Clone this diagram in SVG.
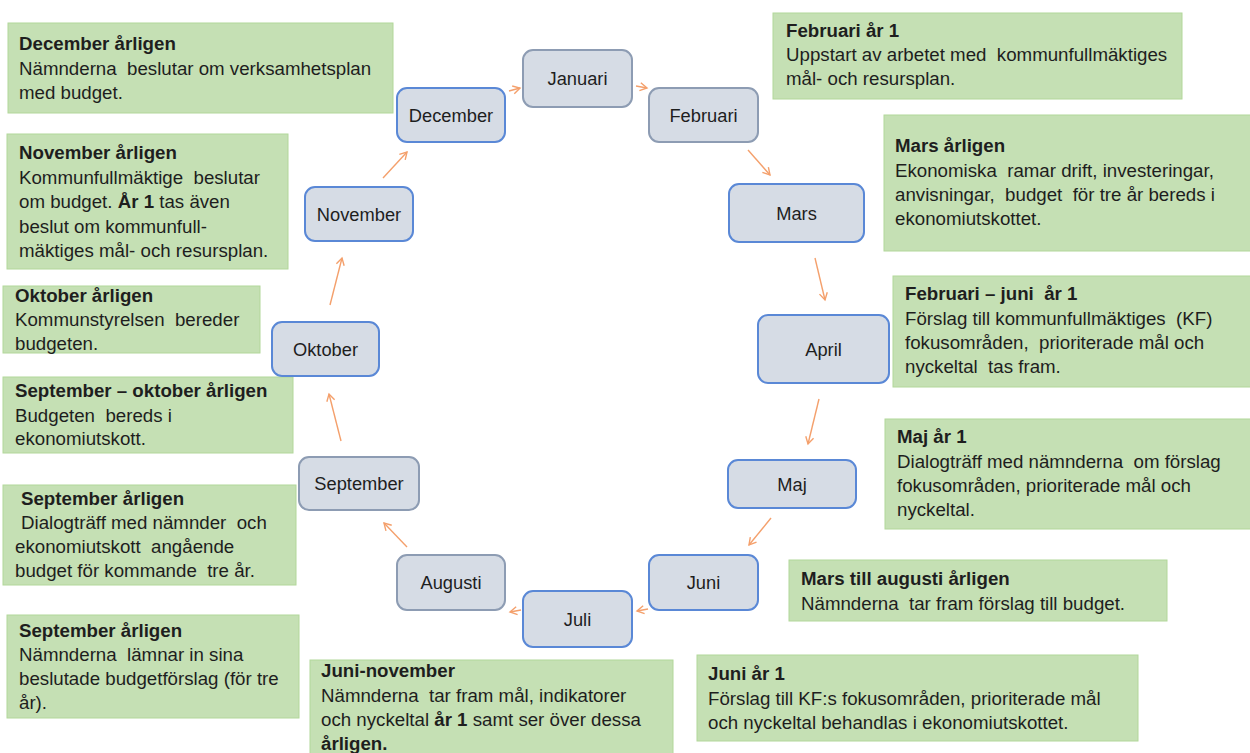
<svg xmlns="http://www.w3.org/2000/svg" width="1250" height="753" viewBox="0 0 1250 753">
<style>
  text { font-family: "Liberation Sans", Arial, sans-serif; font-size: 18.7px; fill: #1e1e1e; white-space: pre; }
  .b { font-weight: bold; }
  .note { fill: #c5e0b4; stroke: #b2d79a; stroke-width: 1; }
  .m { fill: #d6dce5; stroke-width: 2; }
  .mb { stroke: #5a88d6; }
  .mg { stroke: #8d9cb3; }
  .ml { text-anchor: middle; font-size: 18.3px; }
  .arr { stroke: #f4a06c; stroke-width: 1.4; fill: none; marker-end: url(#ah); }
</style>
<defs>
  <marker id="ah" markerWidth="10" markerHeight="10" refX="8" refY="5" orient="auto" markerUnits="userSpaceOnUse">
    <path d="M1,1 L8,5 L1,9" fill="none" stroke="#f4a06c" stroke-width="1.4"/>
  </marker>
</defs>
<rect width="1250" height="753" fill="#ffffff"/>

<g id="note-december">
  <rect class="note" x="8" y="23" width="385" height="90"/>
  <text x="19" y="50" class="b">December årligen</text>
  <text x="19" y="74.5">Nämnderna  beslutar om verksamhetsplan</text>
  <text x="19" y="99">med budget.</text>
</g>
<g id="note-november">
  <rect class="note" x="7" y="134" width="281" height="135"/>
  <text x="19" y="159" class="b">November årligen</text>
  <text x="19" y="183.5">Kommunfullmäktige  beslutar</text>
  <text x="19" y="208">om budget. <tspan class="b">År 1</tspan> tas även</text>
  <text x="19" y="232.5">beslut om kommunfull-</text>
  <text x="19" y="257">mäktiges mål- och resursplan.</text>
</g>
<g id="note-oktober">
  <rect class="note" x="3" y="286" width="257" height="67"/>
  <text x="15" y="302" class="b">Oktober årligen</text>
  <text x="15" y="326">Kommunstyrelsen  bereder</text>
  <text x="15" y="350">budgeten.</text>
</g>
<g id="note-sep-okt">
  <rect class="note" x="3" y="377" width="290" height="76"/>
  <text x="15" y="397" class="b">September – oktober årligen</text>
  <text x="15" y="421.5">Budgeten  bereds i</text>
  <text x="15" y="445">ekonomiutskott.</text>
</g>
<g id="note-september-1">
  <rect class="note" x="3" y="485" width="293" height="100"/>
  <text x="21" y="505" class="b">September årligen</text>
  <text x="21" y="529">Dialogträff med nämnder  och</text>
  <text x="15" y="553">ekonomiutskott  angående</text>
  <text x="15" y="577">budget för kommande  tre år.</text>
</g>
<g id="note-september-2">
  <rect class="note" x="7" y="615" width="292" height="103"/>
  <text x="19" y="637" class="b">September årligen</text>
  <text x="19" y="661">Nämnderna  lämnar in sina</text>
  <text x="19" y="685">beslutade budgetförslag (för tre</text>
  <text x="19" y="709">år).</text>
</g>
<g id="note-juni-november">
  <rect class="note" x="310" y="660" width="363" height="100"/>
  <text x="321" y="677" class="b">Juni-november</text>
  <text x="321" y="701.5">Nämnderna  tar fram mål, indikatorer</text>
  <text x="321" y="726">och nyckeltal <tspan class="b">år 1</tspan> samt ser över dessa</text>
  <text x="321" y="750" class="b">årligen.</text>
</g>
<g id="note-juni-ar1">
  <rect class="note" x="697" y="655" width="441" height="86"/>
  <text x="708" y="680" class="b">Juni år 1</text>
  <text x="708" y="704.5">Förslag till KF:s fokusområden, prioriterade mål</text>
  <text x="708" y="729">och nyckeltal behandlas i ekonomiutskottet.</text>
</g>
<g id="note-mars-augusti">
  <rect class="note" x="789" y="560" width="378" height="61"/>
  <text x="801" y="585" class="b">Mars till augusti årligen</text>
  <text x="801" y="610">Nämnderna  tar fram förslag till budget.</text>
</g>
<g id="note-maj">
  <rect class="note" x="885" y="419" width="370" height="110"/>
  <text x="897" y="443" class="b">Maj år 1</text>
  <text x="897" y="467.5">Dialogträff med nämnderna  om förslag</text>
  <text x="897" y="492">fokusområden, prioriterade mål och</text>
  <text x="897" y="516">nyckeltal.</text>
</g>
<g id="note-feb-juni">
  <rect class="note" x="893" y="276" width="362" height="111"/>
  <text x="905" y="300" class="b">Februari – juni  år 1</text>
  <text x="905" y="324.5">Förslag till kommunfullmäktiges  (KF)</text>
  <text x="905" y="349">fokusområden,  prioriterade mål och</text>
  <text x="905" y="373">nyckeltal  tas fram.</text>
</g>
<g id="note-mars">
  <rect class="note" x="884" y="115" width="371" height="136"/>
  <text x="895" y="152" class="b">Mars årligen</text>
  <text x="895" y="176.5">Ekonomiska  ramar drift, investeringar,</text>
  <text x="895" y="201">anvisningar,  budget  för tre år bereds i</text>
  <text x="895" y="225">ekonomiutskottet.</text>
</g>
<g id="note-februari">
  <rect class="note" x="773" y="13" width="409" height="86"/>
  <text x="786" y="37" class="b">Februari år 1</text>
  <text x="786" y="61">Uppstart av arbetet med  kommunfullmäktiges</text>
  <text x="786" y="85">mål- och resursplan.</text>
</g>

<g id="m-januari"><rect class="m mg" x="523" y="50" width="109" height="57" rx="10"/><text class="ml" x="577.5" y="85">Januari</text></g>
<g id="m-februari"><rect class="m mg" x="649" y="88" width="109" height="54" rx="10"/><text class="ml" x="703.5" y="121.5">Februari</text></g>
<g id="m-mars"><rect class="m mb" x="729" y="184" width="135" height="58" rx="10"/><text class="ml" x="796.5" y="219.5">Mars</text></g>
<g id="m-april"><rect class="m mb" x="758" y="315" width="131" height="68" rx="10"/><text class="ml" x="823.5" y="355.5">April</text></g>
<g id="m-maj"><rect class="m mb" x="728" y="460" width="128" height="48" rx="10"/><text class="ml" x="792" y="490.5">Maj</text></g>
<g id="m-juni"><rect class="m mb" x="649" y="555" width="109" height="55" rx="10"/><text class="ml" x="703.5" y="589">Juni</text></g>
<g id="m-juli"><rect class="m mb" x="523" y="591" width="109" height="56" rx="10"/><text class="ml" x="577.5" y="625.5">Juli</text></g>
<g id="m-augusti"><rect class="m mg" x="397" y="555" width="108" height="55" rx="10"/><text class="ml" x="451" y="589">Augusti</text></g>
<g id="m-september"><rect class="m mg" x="299" y="457" width="120" height="53" rx="10"/><text class="ml" x="359" y="490">September</text></g>
<g id="m-oktober"><rect class="m mb" x="272" y="322" width="107" height="54" rx="10"/><text class="ml" x="325.5" y="355.5">Oktober</text></g>
<g id="m-november"><rect class="m mb" x="305" y="187" width="108" height="54" rx="10"/><text class="ml" x="359" y="220.5">November</text></g>
<g id="m-december"><rect class="m mb" x="397" y="88" width="108" height="54" rx="10"/><text class="ml" x="451" y="121.5">December</text></g>

<g id="connectors">
  <line class="arr" x1="509" y1="91" x2="520" y2="88"/>
  <line class="arr" x1="636" y1="86" x2="647" y2="88"/>
  <line class="arr" x1="748" y1="150" x2="770" y2="175"/>
  <line class="arr" x1="815" y1="258" x2="825" y2="300"/>
  <line class="arr" x1="819" y1="399" x2="808" y2="444"/>
  <line class="arr" x1="771" y1="518" x2="749" y2="545"/>
  <line class="arr" x1="648" y1="609" x2="637" y2="611"/>
  <line class="arr" x1="521" y1="610" x2="510" y2="612"/>
  <line class="arr" x1="407" y1="547" x2="384" y2="523"/>
  <line class="arr" x1="341" y1="441" x2="329" y2="394"/>
  <line class="arr" x1="330" y1="305" x2="342" y2="258"/>
  <line class="arr" x1="383" y1="178" x2="407" y2="152"/>
</g>
</svg>
